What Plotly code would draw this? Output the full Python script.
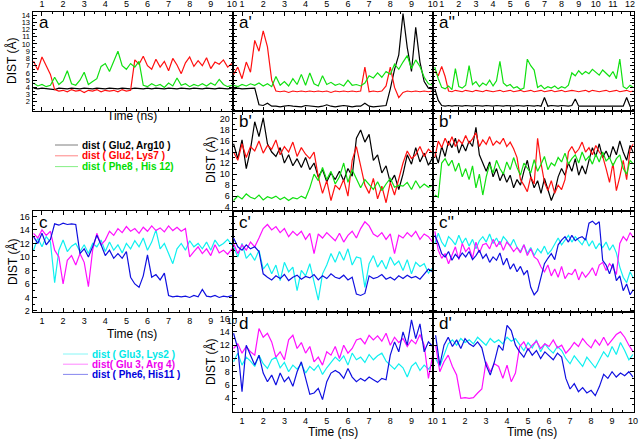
import numpy as np
import plotly.graph_objects as go

W, H = 640, 441

# ---------------- time grids (ns) ----------------
T10 = np.round(np.arange(0.6, 10.001, 0.2), 2)   # 48 samples
T12 = np.round(np.arange(0.6, 12.201, 0.2), 2)   # 59 samples

X10_TICKS = list(range(1, 11))
X12_TICKS = list(range(1, 13))
Y_A_TICKS = list(range(2, 15))
Y_B_TICKS = list(range(4, 21, 2))
Y_C_TICKS = list(range(2, 17, 2))
Y_D_TICKS = list(range(4, 17, 2))

# ---------------- panel a ----------------
a_black = [3.9,3.8,3.9,3.8,3.8, 3.7,3.9,3.8,3.8,3.9, 3.8,3.8,3.9,3.8,3.8, 3.9,3.8,3.8,3.9,3.8,
           3.8,3.9,3.8,3.8,3.9, 3.8,3.8,3.9,3.8,3.9, 3.8,3.8,3.9,3.8,3.8, 3.9,3.8,3.8,3.9,3.8,
           3.8,3.9,3.8,3.8,3.9, 3.8,3.8,3.9]
a_red = [7.6,6.4,8.2,6.9,5.8, 3.7,3.5,3.6,3.4,3.7, 3.5,3.6,3.3,3.6,3.5, 3.7,3.4,3.6,3.5,3.6,
         3.4,3.7,3.5,3.6,7.8, 7.2,8.3,7.0,6.5,7.9, 6.8,7.6,6.3,8.0,7.1, 5.9,7.4,8.2,6.9,7.7,
         7.0,8.1,6.6,7.5,7.2, 7.8,6.8,7.3]
a_green = [4.6,4.2,4.4,4.1,4.3, 5.4,4.4,4.9,6.3,4.5, 4.3,5.0,6.1,4.4,4.8, 5.2,6.9,7.3,6.2,7.6,
           9.0,7.0,6.5,7.3,6.8, 7.6,4.3,4.1,4.5,4.2, 4.4,4.0,4.6,4.2,5.3, 4.3,4.5,4.1,4.4,4.2,
           4.5,4.2,4.6,4.3,5.1, 4.4,4.1,4.3]

# ---------------- panel a' ----------------
ap_black = [3.8,3.9,3.8,3.8,3.9, 3.9,1.6,1.5,1.8,1.4, 1.4,1.3,1.4,1.5,1.4, 1.4,1.3,1.5,1.4,1.4,
            1.3,1.4,1.6,1.4,1.3, 1.4,1.5,1.4,1.3,1.4, 1.4,1.8,1.4,1.3,1.4, 1.4,1.5,3.8,6.5,8.5,
            14.2,9.5,6.2,12.3,7.5, 4.8,3.9,3.8]
ap_red = [5.8,6.8,5.2,7.5,6.1, 10.5,9.0,11.8,9.6,5.0, 3.5,3.4,3.5,3.3,3.5, 3.4,3.5,3.4,3.5,3.4,
          3.5,3.4,3.5,3.3,3.5, 3.4,3.5,3.4,3.5,3.4, 3.5,6.8,3.4,3.5,3.4, 3.5,4.2,6.8,4.0,2.6,
          3.3,3.5,3.4,3.5,3.4, 3.5,3.4,3.5]
ap_green = [4.3,4.1,4.4,4.2,4.5, 4.3,4.6,4.2,4.5,4.1, 5.5,4.3,4.8,4.2,5.2, 4.4,5.8,4.3,6.0,4.5,
            4.2,5.6,4.4,4.7,4.3, 4.5,4.2,5.0,4.3,4.4, 4.2,4.6,5.6,5.3,6.0, 5.4,6.2,5.8,7.2,6.5,
            7.5,8.4,6.6,7.8,6.9, 5.4,4.5,4.3]

# ---------------- panel a'' ----------------
app_black = [3.8,2.2,1.5,1.4,1.5, 1.4,1.5,1.4,1.4,1.5, 1.4,1.4,1.5,1.4,1.4, 1.5,1.4,1.4,1.5,1.4,
             1.4,1.5,1.4,1.4,1.5, 1.4,1.4,1.5,1.4,1.4, 1.5,1.4,2.6,1.4,1.5, 1.4,1.4,1.5,1.4,1.4,
             1.5,2.4,1.4,1.4,1.5, 1.4,1.4,1.5,1.4,1.4, 1.5,1.4,1.4,1.5,1.4, 1.4,2.6,1.4,1.5]
app_red = [6.2,5.6,6.9,5.5,3.5, 3.4,3.6,3.5,3.4,3.6, 3.5,3.4,3.6,3.5,3.4, 3.6,3.5,3.4,3.5,3.6,
           3.4,3.5,3.6,3.4,3.5, 3.6,3.4,3.5,3.6,3.4, 3.5,3.6,3.4,3.5,3.6, 3.4,3.5,3.6,3.4,3.5,
           3.6,3.5,3.4,3.5,3.6, 3.4,3.6,3.5,3.4,3.5, 3.6,3.4,3.5,3.6,3.4, 3.5,3.6,3.4,3.5]
app_green = [6.8,5.2,4.0,3.8,4.2, 3.7,6.6,4.1,3.9,4.3, 7.0,4.4,4.8,4.1,4.6, 4.3,5.0,4.2,4.9,7.6,
             4.6,4.2,4.4,3.9,4.1, 3.7,3.9,7.9,7.0,6.4, 4.0,4.3,3.8,4.1,3.9, 4.2,3.8,4.1,3.9,4.3,
             6.0,5.6,6.3,5.8,6.2, 5.9,6.5,6.1,5.7,6.4, 6.0,5.5,6.2,5.2,7.9, 4.1,3.8,4.3,4.0]

# ---------------- panel b' ----------------
bp_black = [15.5,12.8,16.2,11.0,14.5, 19.5,16.8,20.2,15.5,14.0, 13.2,14.8,12.0,13.5,11.5,
            12.8,11.2,13.0,10.8,12.0, 9.5,10.8,8.6,10.2,9.0, 10.5,8.8,11.0,9.6,16.5,
            18.0,15.8,17.2,12.5,13.5, 10.2,11.5,8.5,9.8,7.2, 10.0,13.5,11.8,14.8,12.2,
            13.8,11.6,13.0]
bp_red = [14.0,12.5,15.5,13.0,15.0, 14.2,16.0,13.8,15.2,14.5, 16.2,13.5,15.0,14.0,15.8,
          13.2,14.8,13.6,12.8,14.0, 9.5,6.5,8.8,5.2,8.0, 7.2,9.0,6.0,12.5,15.0,
          11.5,8.0,6.5,9.2,5.5, 7.8,4.8,8.5,6.2,9.0, 12.0,14.2,12.8,13.5,15.0,
          13.2,14.5,13.8]
bp_green = [5.2,6.0,5.5,6.4,5.8, 5.5,6.2,5.3,5.9,5.6, 6.0,5.4,5.8,5.2,5.7, 5.5,6.0,5.6,7.5,10.0,
            8.8,11.2,9.0,10.5,8.2, 9.5,12.0,8.5,10.8,9.2, 7.5,9.0,8.0,7.2,8.6, 7.0,8.2,9.2,7.6,8.0,
            7.8,8.5,7.2,8.8,7.5, 8.2,7.6,8.0]

# ---------------- panel b'' ----------------
bpp_black = [14.0,12.0,15.0,13.2,16.0, 14.8,16.5,13.8,15.5,14.2, 16.0,15.0,18.5,13.5,12.0,
             10.5,12.2,9.5,11.0,8.8, 10.2,8.5,9.8,7.5,9.0, 8.0,10.5,12.5,9.5,7.5,
             8.8,6.5,9.2,7.0,5.2, 6.8,9.5,11.0,9.8,12.0, 10.5,12.8,9.8,11.5,10.0,
             12.5,14.8,13.2,15.5,13.0, 14.2,12.8,15.0,13.5,16.0, 14.0,12.5,15.2,13.8]
bpp_red = [13.0,16.0,14.8,16.5,15.2, 16.8,15.0,16.2,15.5,17.0, 15.6,16.4,17.5,15.0,16.2,
           15.4,16.8,15.2,16.0,15.5, 16.5,15.0,15.8,14.6,13.0, 9.0,8.0,6.8,9.5,8.2,
           16.5,12.0,8.5,7.0,8.8, 6.5,8.0,7.2,9.0,14.0, 15.0,13.8,14.5,15.8,14.0,
           14.8,13.5,15.2,14.0,13.2, 11.0,8.5,12.0,7.0,9.5, 12.5,9.0,14.5,15.5]
bpp_green = [6.2,5.8,12.0,12.8,11.5, 12.5,10.5,12.0,9.5,11.0, 9.0,11.5,7.5,10.0,6.2,
             9.5,11.8,10.2,12.5,11.0, 10.0,12.2,10.8,13.0,11.2, 9.8,12.0,11.0,10.2,12.6,
             10.5,11.8,13.2,10.8,12.0, 11.5,13.0,12.2,13.8,11.8, 12.8,13.5,12.0,14.0,12.5,
             13.2,11.8,13.6,12.2,14.0, 12.4,13.0,11.5,12.8,13.5, 11.0,10.0,12.5,11.8]

# ---------------- panel c ----------------
c_cyan = [11.0,12.8,11.5,13.0,12.2, 6.2,11.0,12.5,10.8,11.6, 12.0,10.8,11.8,10.5,12.0,
          11.5,12.5,10.8,12.2,11.0, 11.8,10.6,12.0,11.2,12.4, 11.5,12.8,11.0,12.2,14.0,
          11.2,12.0,10.5,9.0,11.2, 12.0,11.0,12.4,11.5,12.0, 11.2,12.2,11.0,12.5,11.6,
          12.0,12.6,11.8]
c_magenta = [13.5,12.8,14.0,13.2,13.8, 11.0,10.0,6.0,9.5,10.2, 8.8,10.5,9.2,5.6,11.0,
             13.5,11.8,12.5,13.8,13.2, 14.2,13.6,14.5,13.8,14.2, 13.5,14.4,13.8,14.6,13.9,
             14.3,13.7,14.6,13.9,14.4, 13.8,14.2,10.0,10.8,11.5, 10.5,11.2,10.2,11.8,10.6,
             11.0,10.4,11.2]
c_blue = [13.0,12.0,13.5,11.8,12.6, 14.9,14.7,15.0,14.8,14.9, 14.8,10.5,11.2,10.0,11.5,
          13.2,11.8,10.2,11.0,9.8, 10.5,9.8,10.8,7.0,6.0, 5.5,7.2,10.3,7.0,7.4,
          6.6,7.6,4.3,4.1,4.2, 4.1,4.2,4.0,4.3,4.1, 5.2,4.2,4.1,4.3,4.0, 4.2,4.1,4.3]

# ---------------- panel c' ----------------
cp_cyan = [11.5,10.0,12.0,9.8,10.5, 9.5,11.0,8.2,9.0,7.5, 8.8,6.5,9.2,7.8,8.5,
           5.0,8.0,7.2,9.0,6.2, 3.6,7.5,8.8,10.5,9.2, 10.8,9.5,11.2,8.8,10.0,
           9.8,5.5,9.0,10.2,8.5, 9.5,8.2,10.0,8.8,9.4, 8.0,9.6,7.5,9.2,8.6, 9.0,7.6,8.4]
cp_magenta = [12.0,10.5,11.8,11.0,12.2, 11.5,12.8,14.2,14.8,14.0, 14.5,13.6,14.2,13.0,13.8,
              13.2,13.8,12.6,13.5,10.5, 13.4,12.8,13.6,13.0,12.4, 13.5,12.2,13.2,13.8,12.8,
              14.2,15.2,14.6,13.4,13.0, 13.6,12.6,13.4,10.5,13.2, 12.8,13.6,13.0,13.8,12.6,
              13.4,13.0,12.2]
cp_blue = [12.8,11.5,11.0,11.8,11.2, 11.5,10.8,7.5,7.0,6.6, 7.2,6.8,7.4,6.5,7.0,
           7.3,6.7,7.1,6.9,7.4, 6.6,7.2,6.8,7.5,7.0, 6.8,7.3,6.6,7.0,4.5,
           4.3,4.6,7.2,6.8,7.0, 7.4,6.7,7.0,6.6,7.2, 6.8,7.3,6.9,7.1,6.7, 7.5,8.2,7.8]

# ---------------- panel c'' ----------------
cpp_cyan = [12.0,13.5,12.2,11.5,13.0, 12.5,11.8,13.2,12.0,12.8, 11.6,12.6,11.2,12.4,13.0,
            12.2,13.4,12.0,12.8,11.8, 13.0,12.4,11.6,12.6,11.4, 10.8,11.8,10.5,11.4,10.2,
            11.2,10.6,11.6,10.4,11.0, 12.0,12.8,11.8,12.6,13.2, 12.2,13.0,12.4,11.8,12.8,
            11.6,12.4,11.2,12.0,11.4, 12.2,11.0,11.8,10.6,8.5, 7.0,6.2,7.8,6.8]
cpp_magenta = [13.8,11.0,9.8,10.5,9.0, 10.2,11.5,9.6,12.0,10.8, 11.4,9.8,12.2,10.6,11.8,
               12.0,11.2,12.6,11.5,12.3, 11.0,12.2,11.6,10.8,11.4, 10.6,11.8,10.2,11.2,10.0,
               9.6,8.5,7.8,8.8,7.2, 8.2,7.0,8.6,6.8,7.6, 7.4,8.2,6.6,7.8,7.0,
               7.6,8.4,7.2,8.8,9.2, 8.0,9.0,8.4,7.4,12.0, 13.0,12.4,13.6,12.8]
cpp_blue = [13.2,12.0,10.5,10.0,10.8, 9.5,10.4,9.8,10.6,10.0, 10.8,9.6,10.2,11.0,9.8,
            10.4,9.2,10.0,9.5,10.6, 8.8,9.8,8.2,9.0,7.8, 8.6,7.4,8.0,5.5,4.4,
            5.0,6.8,9.0,9.8,10.5, 9.6,11.8,12.5,13.0,12.2, 13.2,12.4,12.8,13.0,12.5,
            15.0,15.3,14.8,15.2,9.5, 8.8,7.5,9.0,6.5,7.2, 5.0,6.0,4.4,5.2]

# ---------------- panel d ----------------
d_cyan = [9.5,10.8,9.0,10.2,9.6, 8.8,10.5,9.2,8.5,9.8, 10.2,8.6,9.4,8.0,9.0,
          8.4,9.2,7.8,8.8,8.2, 9.0,7.6,8.6,9.4,10.2, 9.6,10.4,9.0,10.8,9.8,
          10.2,9.4,10.6,9.8,10.4, 10.8,9.6,9.0,8.4,9.2, 8.6,7.2,8.8,9.4,8.2, 9.0,8.4,9.2]
d_magenta = [11.5,12.2,10.8,11.8,11.0, 10.5,14.5,13.2,13.8,12.5, 10.2,11.0,9.8,12.8,13.5,
             11.5,12.4,10.8,11.8,9.5, 10.2,9.0,11.0,10.5,11.8, 10.0,12.0,10.8,11.5,12.8,
             13.0,12.2,13.5,12.8,13.4, 12.6,13.8,12.0,13.2,12.4, 13.0,11.8,12.8,12.2,13.6,
             12.0,7.0,10.5]
d_blue = [13.8,11.5,5.0,12.0,10.5, 9.0,10.5,7.8,6.5,7.5, 6.0,7.8,6.5,7.2,5.8,
          8.0,9.5,7.0,4.6,4.8, 5.5,3.8,6.5,7.8,8.2, 7.8,7.0,8.5,7.2,6.5,
          7.0,6.6,7.2,6.8,6.4, 7.0,6.8,10.5,12.5,11.0, 14.0,12.0,15.8,13.0,15.2, 11.0,12.5,11.8]

# ---------------- panel d' ----------------
dp_cyan = [10.0,8.8,10.5,12.2,12.8, 12.0,13.0,12.4,12.8,12.2, 13.2,12.6,12.0,13.0,12.4,
           12.8,12.2,13.2,12.6,13.0, 12.0,11.2,12.4,11.6,12.8, 11.0,12.2,11.4,10.8,11.8,
           11.2,10.0,9.2,10.4,9.6, 8.8,10.2,9.4,8.6,9.8, 11.0,10.2,11.8,10.6,12.4, 11.2,9.8,10.6]
dp_magenta = [12.0,8.0,9.5,10.5,8.8, 7.5,4.0,4.1,4.0,4.1, 4.8,5.4,9.5,8.0,9.2,
              8.8,7.0,9.0,6.5,7.8, 11.8,12.5,11.2,12.0,12.6, 11.5,12.2,11.8,12.8,11.6,
              12.0,10.8,11.5,12.4,11.8, 13.0,12.2,11.6,12.8,12.0, 13.2,12.0,12.8,13.6,14.0,
              13.2,12.0,11.0]
dp_blue = [13.5,9.0,12.0,13.2,11.8, 12.8,11.5,13.0,12.2,11.8, 12.5,11.6,9.0,7.5,9.5,
           12.0,11.2,15.0,14.2,12.0, 11.0,10.2,11.5,10.5,11.2, 10.0,11.0,10.4,9.8,10.8,
           10.2,7.0,5.4,6.2,5.0, 5.6,4.8,5.2,4.4,5.8, 7.6,7.0,8.0,7.2,7.8, 7.4,8.0,7.2]

# ---------------- legend texts ----------------
LEG1 = ["dist ( Glu2, Arg10 )", "dist ( Glu2, Lys7 )", "dist ( Phe8 , His 12)"]
LEG2 = ["dist ( Glu3, Lys2 )", "dist( Glu 3, Arg 4)", "dist ( Phe6, His11 )"]

BLACK, RED, GREEN = "#000000", "#ff1010", "#10e010"
CYAN, MAGENTA, BLUE = "#10f0f0", "#ff10ff", "#1010e0"
TXT_COL1 = ["#000000", "#ff0000", "#00dd00"]
TXT_COL2 = ["#00e8e8", "#ee00ee", "#0000dd"]

FONT = "Liberation Sans, Arial, sans-serif"

# box = (left, right, top, bottom) in pixels
ROW1 = (11.7, 110.7)
ROW2 = (110.7, 211.0)
ROW3 = (211.0, 312.0)
ROW4 = (312.0, 411.7)
COL1 = (32.5, 232.5)
COL2 = (232.5, 433.3)
COL3 = (433.3, 633.5)

YR_A = [0.78, 14.46]
YR_B = [3.3, 21.5]
YR_C = [1.85, 16.8]
YR_D = [1.98, 17.0]
XR10 = [0.55, 10.03]
XR12 = [0.51, 12.2]
XR10B = [0.49, 10.02]

panels = [
    dict(lab="a", col=COL1, row=ROW1, xr=XR10, yr=YR_A, t=T10, xt=X10_TICKS, xs="top", yt=Y_A_TICKS, ys=True, ym=0.5, yf=7.5,
         ser=[(a_black, BLACK, LEG1[0]), (a_red, RED, LEG1[1]), (a_green, GREEN, LEG1[2])]),
    dict(lab="a'", col=COL2, row=ROW1, xr=XR10, yr=YR_A, t=T10, xt=X10_TICKS, xs="top", yt=Y_A_TICKS, ys=False, ym=0.5, yf=7.5,
         ser=[(ap_black, BLACK, LEG1[0]), (ap_red, RED, LEG1[1]), (ap_green, GREEN, LEG1[2])]),
    dict(lab="a''", col=COL3, row=ROW1, xr=XR12, yr=YR_A, t=T12, xt=X12_TICKS, xs="top", yt=Y_A_TICKS, ys=False, ym=0.5, yf=7.5,
         ser=[(app_black, BLACK, LEG1[0]), (app_red, RED, LEG1[1]), (app_green, GREEN, LEG1[2])]),
    dict(lab="b'", col=COL2, row=ROW2, xr=XR10, yr=YR_B, t=T10, xt=X10_TICKS, xs=None, yt=Y_B_TICKS, ys=True, ym=1, yf=9,
         ser=[(bp_black, BLACK, LEG1[0]), (bp_red, RED, LEG1[1]), (bp_green, GREEN, LEG1[2])]),
    dict(lab="b'", col=COL3, row=ROW2, xr=XR12, yr=YR_B, t=T12, xt=X12_TICKS, xs=None, yt=Y_B_TICKS, ys=False, ym=1, yf=9,
         ser=[(bpp_black, BLACK, LEG1[0]), (bpp_red, RED, LEG1[1]), (bpp_green, GREEN, LEG1[2])]),
    dict(lab="c", col=COL1, row=ROW3, xr=XR10, yr=YR_C, t=T10, xt=X10_TICKS, xs="bottom", yt=Y_C_TICKS, ys=True, ym=1, yf=9,
         ser=[(c_cyan, CYAN, LEG2[0]), (c_magenta, MAGENTA, LEG2[1]), (c_blue, BLUE, LEG2[2])]),
    dict(lab="c'", col=COL2, row=ROW3, xr=XR10, yr=YR_C, t=T10, xt=X10_TICKS, xs=None, yt=Y_C_TICKS, ys=False, ym=1, yf=9,
         ser=[(cp_cyan, CYAN, LEG2[0]), (cp_magenta, MAGENTA, LEG2[1]), (cp_blue, BLUE, LEG2[2])]),
    dict(lab="c''", col=COL3, row=ROW3, xr=XR12, yr=YR_C, t=T12, xt=X12_TICKS, xs=None, yt=Y_C_TICKS, ys=False, ym=1, yf=9,
         ser=[(cpp_cyan, CYAN, LEG2[0]), (cpp_magenta, MAGENTA, LEG2[1]), (cpp_blue, BLUE, LEG2[2])]),
    dict(lab="d", col=COL2, row=ROW4, xr=XR10, yr=YR_D, t=T10, xt=X10_TICKS, xs="bottom", yt=Y_D_TICKS, ys=True, ym=1, yf=9,
         ser=[(d_cyan, CYAN, LEG2[0]), (d_magenta, MAGENTA, LEG2[1]), (d_blue, BLUE, LEG2[2])]),
    dict(lab="d'", col=COL3, row=ROW4, xr=XR10B, yr=YR_D, t=T10, xt=X10_TICKS, xs="bottom", yt=Y_D_TICKS, ys=False, ym=1, yf=9,
         ser=[(dp_cyan, CYAN, LEG2[0]), (dp_magenta, MAGENTA, LEG2[1]), (dp_blue, BLUE, LEG2[2])]),
]


def px2x(px):
    return px / W


def py2y(py):
    return 1 - py / H


fig = go.Figure()
layout = dict(
    width=W, height=H, margin=dict(l=0, r=0, t=0, b=0),
    paper_bgcolor="white", plot_bgcolor="white", showlegend=False,
    font=dict(family=FONT, size=10, color="black"),
)

annotations = []
shapes = []

for i, p in enumerate(panels, start=1):
    sfx = "" if i == 1 else str(i)
    for vals, color, name in p["ser"]:
        assert len(vals) == len(p["t"]), (p["lab"], name, len(vals))
        fig.add_trace(go.Scatter(x=p["t"], y=vals, mode="lines", name=name,
                                 line=dict(color=color, width=1.2), xaxis="x" + sfx, yaxis="y" + sfx,
                                 hoverinfo="skip"))
    l, r = p["col"]
    t, b = p["row"]
    common = dict(showline=True, linecolor="black", linewidth=1, mirror="allticks",
                  ticks="inside", ticklen=4, tickcolor="black", showgrid=False, zeroline=False,
                  automargin=False, fixedrange=True)
    layout["xaxis" + sfx] = dict(
        common, domain=[px2x(l), px2x(r)], range=p["xr"], anchor="y" + sfx,
        tickmode="array", tickvals=p["xt"], tickfont=dict(family=FONT, size=9),
        showticklabels=p["xs"] is not None, side=p["xs"] if p["xs"] else "bottom",
        minor=dict(tickmode="linear", tick0=0, dtick=0.5, ticks="inside", ticklen=2, tickcolor="black"),
    )
    layout["yaxis" + sfx] = dict(
        common, domain=[py2y(b), py2y(t)], range=p["yr"], anchor="x" + sfx,
        tickmode="array", tickvals=p["yt"], showticklabels=p["ys"], tickfont=dict(family=FONT, size=p["yf"]),
        minor=dict(tickmode="linear", tick0=0, dtick=p["ym"], ticks="inside", ticklen=2, tickcolor="black"),
    )
    annotations.append(dict(x=px2x(l + 4), y=py2y(t + 11), xref="paper", yref="paper", text=p["lab"],
                            showarrow=False, xanchor="left", yanchor="middle",
                            font=dict(family=FONT, size=17, color="black")))

# axis titles
for (x, y) in [(12, 61), (210, 160), (12, 262), (210, 362)]:
    annotations.append(dict(x=px2x(x), y=py2y(y), xref="paper", yref="paper", text="DIST (Å)",
                            textangle=-90, showarrow=False, xanchor="center", yanchor="middle",
                            font=dict(family=FONT, size=12, color="black")))
for (x, y) in [(132, 116), (132, 334), (333, 432), (532, 432)]:
    annotations.append(dict(x=px2x(x), y=py2y(y), xref="paper", yref="paper", text="Time (ns)",
                            showarrow=False, xanchor="center", yanchor="middle",
                            font=dict(family=FONT, size=12, color="black")))

# legends
for k, (txt, lc, tc) in enumerate(zip(LEG1, [BLACK, RED, GREEN], TXT_COL1)):
    y = 145 + 10.8 * k
    shapes.append(dict(type="line", xref="paper", yref="paper", x0=px2x(55), x1=px2x(78),
                       y0=py2y(y), y1=py2y(y), line=dict(color=lc, width=1), opacity=0.5))
    annotations.append(dict(x=px2x(80), y=py2y(y), xref="paper", yref="paper", text="<b>%s</b>" % txt,
                            showarrow=False, xanchor="left", yanchor="middle",
                            font=dict(family=FONT, size=10, color=tc)))
for k, (txt, lc, tc) in enumerate(zip(LEG2, [CYAN, MAGENTA, BLUE], TXT_COL2)):
    y = 354 + 10.2 * k
    shapes.append(dict(type="line", xref="paper", yref="paper", x0=px2x(63), x1=px2x(88),
                       y0=py2y(y), y1=py2y(y), line=dict(color=lc, width=1), opacity=0.5))
    annotations.append(dict(x=px2x(89.5), y=py2y(y), xref="paper", yref="paper", text="<b>%s</b>" % txt,
                            showarrow=False, xanchor="left", yanchor="middle",
                            font=dict(family=FONT, size=10, color=tc)))

layout["annotations"] = annotations
layout["shapes"] = shapes
fig.update_layout(**layout)
fig.write_html("out.html", config={"displayModeBar": False, "staticPlot": True},
               post_script="document.body.style.margin='0px';document.body.style.overflow='hidden';")
